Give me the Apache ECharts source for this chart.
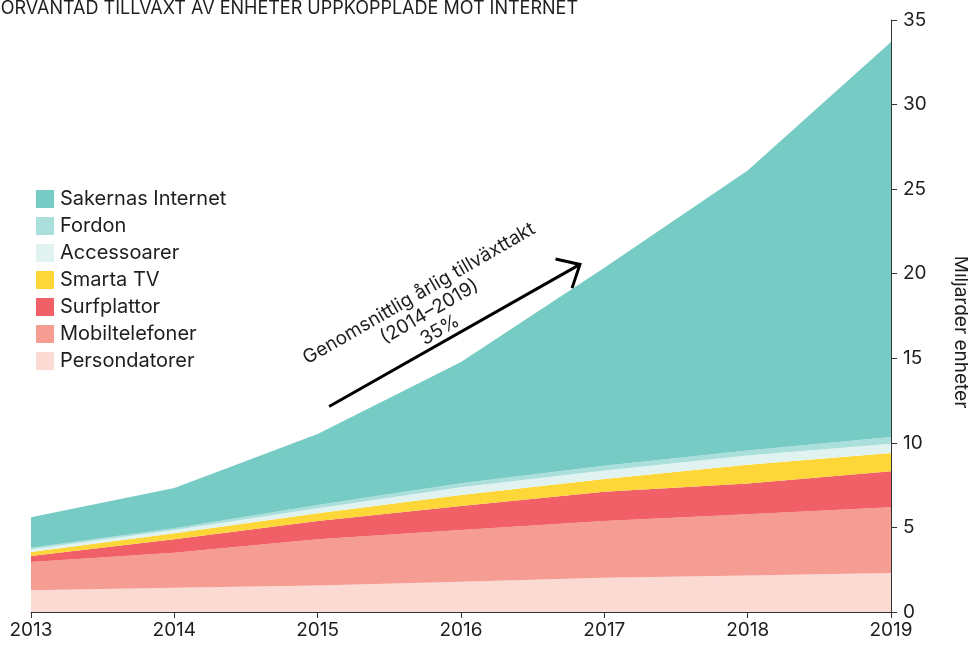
<!DOCTYPE html>
<html>
<head>
<meta charset="utf-8">
<script src="https://cdn.jsdelivr.net/npm/echarts@6/dist/echarts.min.js"></script>
<style>
  html, body { margin: 0; padding: 0; background: #fff; }
  #chart { width: 968px; height: 645px; }
</style>
</head>
<body>
<div id="chart"></div>
<script>
// Years on the x axis
const years = ['2013', '2014', '2015', '2016', '2017', '2018', '2019']

// Billions of devices per category (stacked, bottom first)
const persondatorer = [1.28, 1.44, 1.56, 1.79, 2.03, 2.16, 2.30]
const mobiltelefoner = [1.68, 2.07, 2.74, 3.06, 3.35, 3.62, 3.90]
const surfplattor = [0.35, 0.79, 1.08, 1.42, 1.73, 1.82, 2.12]
const smartaTv = [0.24, 0.35, 0.46, 0.65, 0.75, 1.10, 1.08]
const accessoarer = [0.16, 0.20, 0.29, 0.45, 0.50, 0.55, 0.55]
const fordon = [0.09, 0.10, 0.20, 0.24, 0.29, 0.30, 0.40]
const sakernasInternet = [1.80, 2.38, 4.20, 7.17, 11.70, 16.55, 23.35]

const yTicks = [0, 5, 10, 15, 20, 25, 30, 35]

const FONT = 'Inter'
const TEXT = '#1e1e1e'

const layers = [
  { name: 'Persondatorer', data: persondatorer, color: '#fcdad4' },
  { name: 'Mobiltelefoner', data: mobiltelefoner, color: '#f59c93' },
  { name: 'Surfplattor', data: surfplattor, color: '#f16067' },
  { name: 'Smarta TV', data: smartaTv, color: '#fdd638' },
  { name: 'Accessoarer', data: accessoarer, color: '#e1f3f1' },
  { name: 'Fordon', data: fordon, color: '#aadfdb' },
  { name: 'Sakernas Internet', data: sakernasInternet, color: '#77cbc5' },
]

const chart = echarts.init(document.getElementById('chart'), null, { renderer: 'canvas' })

const option = {
  animation: false,
  backgroundColor: '#fff',
  textStyle: { fontFamily: FONT, color: TEXT },

  title: {
    text: 'FÖRVÄNTAD TILLVÄXT AV ENHETER UPPKOPPLADE MOT INTERNET',
    right: 390,
    top: 0,
    padding: 0,
    textStyle: { fontFamily: FONT, fontSize: 18, fontWeight: 'normal', color: TEXT },
  },

  // legend lists the top layer first
  legend: {
    orient: 'vertical',
    left: 36,
    top: 189,
    padding: 0,
    itemWidth: 18,
    itemHeight: 18,
    itemGap: 7,
    icon: 'rect',
    data: layers.map((l) => l.name).reverse(),
    textStyle: { fontFamily: FONT, fontSize: 20, lineHeight: 18, color: TEXT, padding: [0, 0, 0, 1] },
  },

  grid: { left: 31, right: 77, top: 20, bottom: 33, containLabel: false, outerBoundsMode: 'none' },

  xAxis: {
    type: 'category',
    data: years,
    boundaryGap: false,
    axisLine: { show: true, lineStyle: { color: '#333', width: 1 } },
    axisTick: { show: true, length: 6, alignWithLabel: true, lineStyle: { color: '#333' } },
    axisLabel: { margin: 9, fontSize: 19, color: TEXT, fontFamily: FONT },
    splitLine: { show: false },
  },

  yAxis: {
    type: 'value',
    position: 'right',
    min: yTicks[0],
    max: yTicks[yTicks.length - 1],
    interval: 5,
    name: 'Miljarder enheter',
    nameLocation: 'middle',
    nameRotate: -90,
    nameGap: 60,
    nameTextStyle: { fontSize: 19, color: TEXT, fontFamily: FONT, padding: [0, 0, 0, 32] },
    axisLine: { show: true, lineStyle: { color: '#333', width: 1 } },
    axisTick: { show: true, length: 6, lineStyle: { color: '#333' } },
    axisLabel: { margin: 12, fontSize: 19, color: TEXT, fontFamily: FONT },
    splitLine: { show: false },
  },

  series: layers.map((l) => ({
    name: l.name,
    type: 'line',
    stack: 'total',
    symbol: 'none',
    color: l.color,
    lineStyle: { width: 0 },
    areaStyle: { color: l.color, opacity: 1 },
    data: l.data,
    z: 2,
  })),
}

chart.setOption(option)

// Pixel for a fractional year index on the category axis (ECharts rounds
// category coords, so interpolate between neighbouring ticks)
const toPixel = (xIdx, y) => {
  const i0 = Math.floor(xIdx)
  const p0 = chart.convertToPixel({ gridIndex: 0 }, [i0, y])
  const p1 = chart.convertToPixel({ gridIndex: 0 }, [i0 + 1, y])
  const t = xIdx - i0
  return [p0[0] + (p1[0] - p0[0]) * t, p0[1]]
}

// Annotation arrow and text
const arrowFrom = toPixel(2.08, 12.15)
const arrowTo = toPixel(3.83, 20.55)
const textAt = toPixel(2.78, 17.75)

const ang = Math.atan2(arrowTo[1] - arrowFrom[1], arrowTo[0] - arrowFrom[0])
const headLen = 25
const headAng = (42 * Math.PI) / 180
const armA = [
  arrowTo[0] - headLen * Math.cos(ang - headAng),
  arrowTo[1] - headLen * Math.sin(ang - headAng),
]
const armB = [
  arrowTo[0] - headLen * Math.cos(ang + headAng),
  arrowTo[1] - headLen * Math.sin(ang + headAng),
]

chart.setOption({
  graphic: [
    {
      type: 'line',
      shape: { x1: arrowFrom[0], y1: arrowFrom[1], x2: arrowTo[0], y2: arrowTo[1] },
      style: { stroke: '#000', lineWidth: 3 },
      z: 10,
    },
    {
      type: 'polyline',
      shape: { points: [armA, arrowTo, armB] },
      style: { stroke: '#000', lineWidth: 3, fill: null },
      z: 10,
    },
    {
      type: 'text',
      x: textAt[0],
      y: textAt[1],
      rotation: (30 * Math.PI) / 180,
      style: {
        text: 'Genomsnittlig årlig tillväxttakt\n(2014–2019)\n35%',
        fontFamily: FONT,
        fontSize: 19,
        lineHeight: 21,
        fill: TEXT,
        align: 'center',
        verticalAlign: 'middle',
      },
      z: 10,
    },
  ],
})

window.addEventListener('resize', () => chart.resize())
</script>
</body>
</html>
